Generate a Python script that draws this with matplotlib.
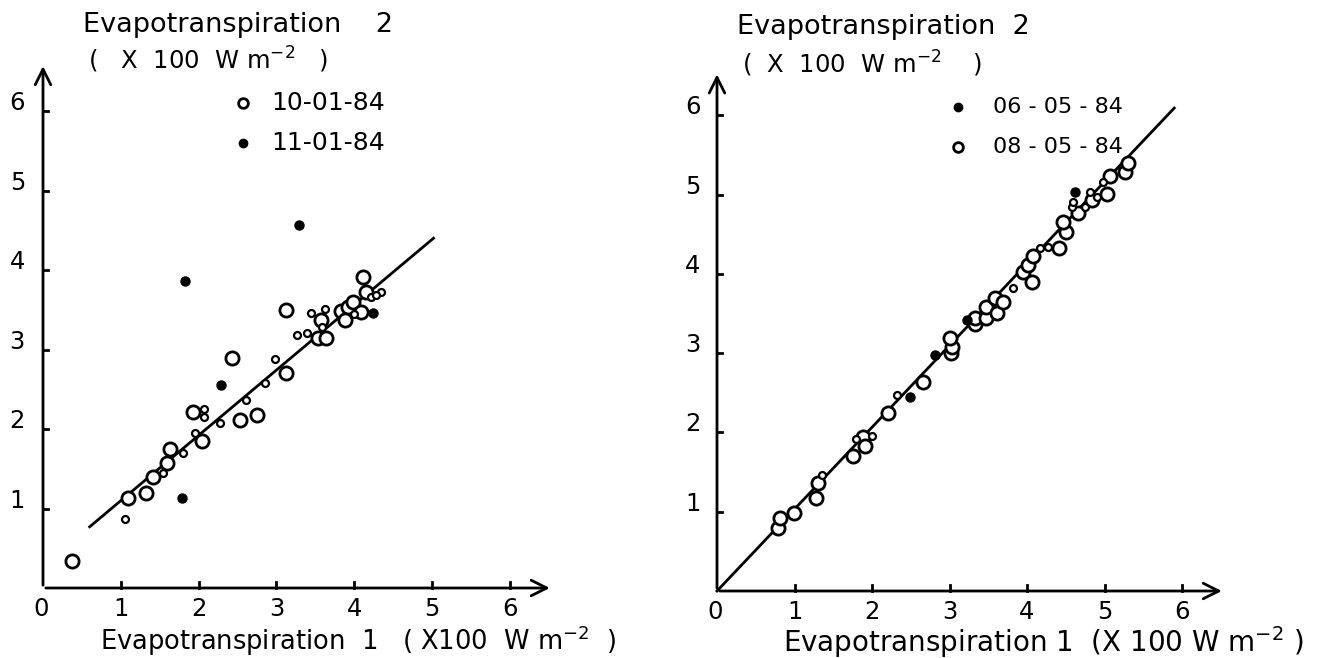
import matplotlib.pyplot as plt

# ---- data (x100 W m-2) ----
# left panel
left_open_x = [0.37, 1.09, 1.32, 1.41, 1.60, 1.63, 1.93, 2.05, 2.53, 2.75, 2.43, 3.12, 3.12,
               3.57, 3.53, 3.64, 3.83, 3.92, 3.88, 3.99, 4.09, 4.11, 4.15]
left_open_y = [0.34, 1.13, 1.20, 1.40, 1.57, 1.75, 2.21, 1.85, 2.11, 2.18, 2.89, 2.70, 3.50,
               3.37, 3.14, 3.14, 3.48, 3.54, 3.37, 3.60, 3.47, 3.91, 3.72]
left_small_x = [1.06, 1.54, 1.80, 2.07, 2.07, 1.95, 2.27, 2.61, 2.85, 2.98, 3.26, 3.39, 3.45,
                3.62, 3.58, 4.22, 4.34, 4.28, 4.00]
left_small_y = [0.87, 1.45, 1.70, 2.25, 2.15, 1.95, 2.07, 2.36, 2.58, 2.88, 3.18, 3.21, 3.46,
                3.51, 3.28, 3.66, 3.72, 3.68, 3.45]
left_fill_x = [1.79, 2.29, 1.82, 3.29, 4.24]
left_fill_y = [1.13, 2.55, 3.86, 4.57, 3.46]
left_line_x = [0.60, 5.02]
left_line_y = [0.77, 4.40]
left_dates = ["10-01-84", "11-01-84"]

# right panel
right_open_x = [0.79, 0.81, 0.99, 1.28, 1.30, 1.75, 1.88, 1.91, 2.21, 2.66, 3.02, 3.03, 3.01,
                3.33, 3.33, 3.47, 3.47, 3.59, 3.61, 3.69, 3.95, 4.01, 4.06, 4.08, 4.41, 4.50,
                4.47, 4.66, 4.84, 5.03, 5.07, 5.26, 5.30]
right_open_y = [0.79, 0.92, 0.98, 1.17, 1.36, 1.70, 1.94, 1.83, 2.25, 2.64, 3.00, 3.08, 3.19,
                3.37, 3.44, 3.44, 3.58, 3.69, 3.50, 3.64, 4.02, 4.11, 3.90, 4.22, 4.33, 4.53,
                4.65, 4.77, 4.93, 5.01, 5.23, 5.28, 5.40]
right_small_x = [1.36, 1.79, 2.00, 2.32, 3.82, 4.17, 4.27, 4.58, 4.59, 4.75, 4.81, 4.90, 4.98]
right_small_y = [1.46, 1.92, 1.96, 2.47, 3.82, 4.33, 4.34, 4.84, 4.91, 4.84, 5.03, 4.97, 5.16]
right_fill_x = [2.49, 2.81, 3.23, 4.62]
right_fill_y = [2.45, 2.98, 3.42, 5.03]
right_line_x = [0.0, 5.90]
right_line_y = [0.0, 6.09]
right_dates = ["06 - 05 - 84", "08 - 05 - 84"]

ticks = [1, 2, 3, 4, 5, 6]

W, H = 1330, 658
fig = plt.figure(figsize=(13.3, 6.58), dpi=100)
plt.rcParams['font.family'] = ['DejaVu Sans']


def add_panel(ox, oy, ux, uy, xlim, ylim):
    # place axes so that data (0,0) sits at pixel (ox, oy)
    left = (ox + xlim[0] * ux) / W
    width = (xlim[1] - xlim[0]) * ux / W
    bottom = 1 - (oy - ylim[0] * uy) / H
    height = (ylim[1] - ylim[0]) * uy / H
    ax = fig.add_axes([left, bottom, width, height])
    ax.set_xlim(xlim)
    ax.set_ylim(ylim)
    ax.axis('off')
    return ax


def draw_axes(ax, xend, yend, lab_dx):
    kw = dict(arrowstyle='->', lw=2, color='black', mutation_scale=28)
    ax.annotate('', xy=(0, yend), xytext=(0, 0), arrowprops=kw, annotation_clip=False)
    ax.annotate('', xy=(xend, 0), xytext=(0, 0), arrowprops=kw, annotation_clip=False)
    for t in ticks:
        ax.plot([t, t], [0, 0.07], color='black', lw=2, clip_on=False)
        ax.plot([0, 0.07], [t, t], color='black', lw=2, clip_on=False)
        ax.text(t, -0.27, str(t), ha='center', va='center', fontsize=17.5)
        ax.text(lab_dx, t + 0.1, str(t), ha='center', va='center', fontsize=17.5)
    ax.text(-0.02, -0.27, "0", ha='center', va='center', fontsize=17.5)


def draw_points(ax, ox, oy, sx, sy, fx, fy):
    ax.plot(ox, oy, 'o', ms=9.5, mfc='white', mec='black', mew=2, ls='none', clip_on=False)
    ax.plot(sx, sy, 'o', ms=5, mfc='white', mec='black', mew=1.6, ls='none', clip_on=False)
    ax.plot(fx, fy, 'o', ms=6.5, mfc='black', mec='black', ls='none', clip_on=False)


# ---- left panel ----
axl = add_panel(43, 588, 77.8, 79.5, (-0.6, 7.3), (-0.9, 7.4))
draw_axes(axl, 6.55, 6.6, -0.33)
axl.plot(left_line_x, left_line_y, color='black', lw=2)
draw_points(axl, left_open_x, left_open_y, left_small_x, left_small_y, left_fill_x, left_fill_y)
axl.text(0.51, 7.08, "Evapotranspiration    2", ha='left', va='center', fontsize=19.5)
axl.text(0.58, 6.64, "(   X  100  W m$^{-2}$   )", ha='left', va='center', fontsize=17.5)
axl.plot([2.57], [6.10], 'o', ms=7, mfc='white', mec='black', mew=2, clip_on=False)
axl.plot([2.57], [5.60], 'o', ms=6, mfc='black', mec='black', clip_on=False)
axl.text(2.94, 6.10, left_dates[0], ha='left', va='center', fontsize=18)
axl.text(2.94, 5.60, left_dates[1], ha='left', va='center', fontsize=18)
axl.text((100 - 43) / 77.8, -0.66, "Evapotranspiration  1   ( X100  W m$^{-2}$  )",
         ha='left', va='center', fontsize=18.5)

# ---- right panel ----
axr = add_panel(717, 591, 77.5, 79.3, (-0.6, 7.9), (-0.9, 7.4))
draw_axes(axr, 6.55, 6.55, -0.31)
axr.plot(right_line_x, right_line_y, color='black', lw=2)
draw_points(axr, right_open_x, right_open_y, right_small_x, right_small_y, right_fill_x, right_fill_y)
axr.text(0.26, 7.11, "Evapotranspiration  2", ha='left', va='center', fontsize=19.5)
axr.text(0.32, 6.65, "(  X  100  W m$^{-2}$    )", ha='left', va='center', fontsize=17.5)
axr.plot([3.11], [6.10], 'o', ms=6, mfc='black', mec='black', clip_on=False)
axr.plot([3.11], [5.60], 'o', ms=7, mfc='white', mec='black', mew=2, clip_on=False)
axr.text(3.56, 6.10, right_dates[0], ha='left', va='center', fontsize=16)
axr.text(3.56, 5.60, right_dates[1], ha='left', va='center', fontsize=16)
axr.text((783 - 717) / 77.5, -0.64, "Evapotranspiration 1  (X 100 W m$^{-2}$ )", ha='left',
         va='center', fontsize=20)

fig.savefig("out.png", dpi=100, facecolor='white')
